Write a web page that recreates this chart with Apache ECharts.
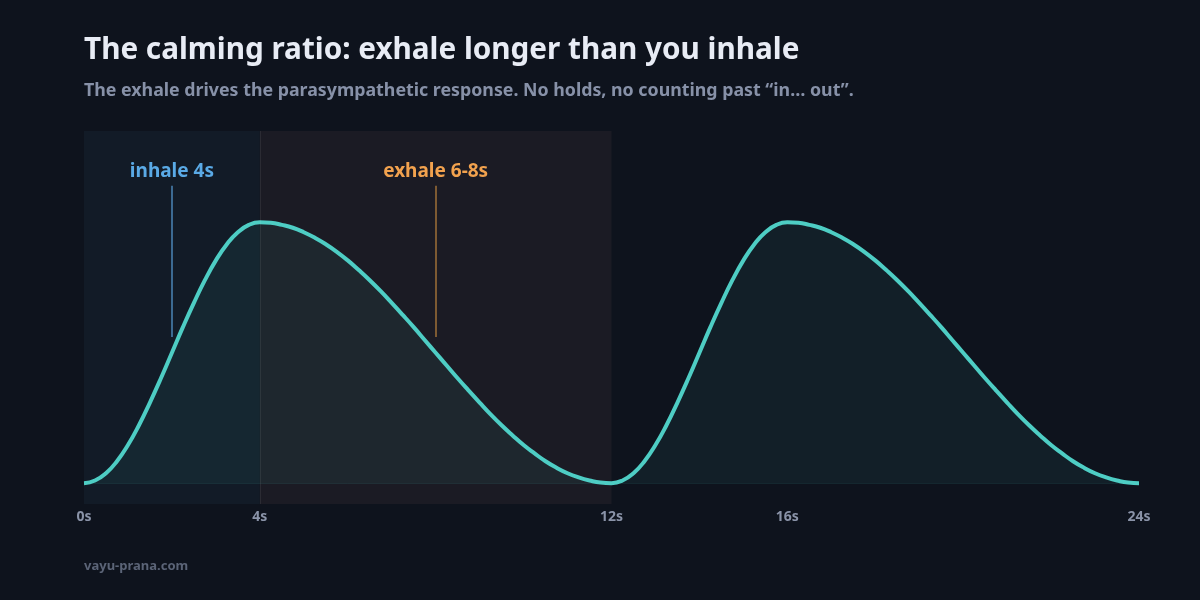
<!DOCTYPE html>
<html>
<head>
<meta charset="utf-8">
<script src="https://cdn.jsdelivr.net/npm/echarts@6/dist/echarts.min.js"></script>
<style>
  html, body { margin: 0; padding: 0; background: #0e131d; }
  #chart { width: 1200px; height: 600px; }
</style>
</head>
<body>
<div id="chart"></div>
<script>
// breath curve read every 0.25s over two cycles (0..24s), 1 = full lungs
var seconds = [0, 0.25, 0.5, 0.75, 1, 1.25, 1.5, 1.75, 2, 2.25, 2.5, 2.75, 3, 3.25, 3.5, 3.75,
    4, 4.25, 4.5, 4.75, 5, 5.25, 5.5, 5.75, 6, 6.25, 6.5, 6.75, 7, 7.25, 7.5, 7.75,
    8, 8.25, 8.5, 8.75, 9, 9.25, 9.5, 9.75, 10, 10.25, 10.5, 10.75, 11, 11.25, 11.5, 11.75,
    12, 12.25, 12.5, 12.75, 13, 13.25, 13.5, 13.75, 14, 14.25, 14.5, 14.75, 15, 15.25, 15.5, 15.75,
    16, 16.25, 16.5, 16.75, 17, 17.25, 17.5, 17.75, 18, 18.25, 18.5, 18.75, 19, 19.25, 19.5, 19.75,
    20, 20.25, 20.5, 20.75, 21, 21.25, 21.5, 21.75, 22, 22.25, 22.5, 22.75, 23, 23.25, 23.5, 23.75, 24];
var lungs = [0, 0.01, 0.038, 0.084, 0.146, 0.222, 0.309, 0.402, 0.5, 0.598, 0.691, 0.778, 0.854, 0.916, 0.962, 0.99,
    1, 0.998, 0.99, 0.979, 0.962, 0.941, 0.916, 0.887, 0.854, 0.817, 0.778, 0.736, 0.691, 0.645, 0.598, 0.549,
    0.5, 0.451, 0.402, 0.355, 0.309, 0.264, 0.222, 0.183, 0.146, 0.114, 0.084, 0.059, 0.038, 0.022, 0.01, 0.002,
    0, 0.01, 0.038, 0.084, 0.146, 0.222, 0.309, 0.402, 0.5, 0.598, 0.691, 0.778, 0.854, 0.916, 0.962, 0.99,
    1, 0.998, 0.99, 0.979, 0.962, 0.941, 0.916, 0.887, 0.854, 0.817, 0.778, 0.736, 0.691, 0.645, 0.598, 0.549,
    0.5, 0.451, 0.402, 0.355, 0.309, 0.264, 0.222, 0.183, 0.146, 0.114, 0.084, 0.059, 0.038, 0.022, 0.01, 0.002, 0];
var tickSeconds = [0, 4, 12, 16, 24];
var phaseNames = ['inhale 4s', 'exhale 6-8s'];
var phaseStart = [0, 4];
var phaseEnd = [4, 12];
var phaseLabelAt = [2, 8];

var FONT = '"Noto Sans", Lato, sans-serif';

var chart = echarts.init(document.getElementById('chart'), null, { renderer: 'canvas' });

var points = seconds.map(function (s, i) { return [s, lungs[i]]; });

chart.setOption({
    backgroundColor: '#0e131d',
    animation: false,
    title: {
        text: 'The calming ratio: exhale longer than you inhale',
        subtext: 'The exhale drives the parasympathetic response. No holds, no counting past \u201cin\u2026 out\u201d.',
        left: 79,
        top: 31,
        itemGap: 16,
        textStyle: { color: '#e8ecf5', fontFamily: FONT, fontWeight: 'bold', fontSize: 29.7 },
        subtextStyle: { color: '#8791a8', fontFamily: FONT, fontWeight: 'bold', fontSize: 17.8 }
    },
    graphic: [{
        type: 'text',
        left: 84,
        top: 560,
        style: { text: 'vayu-prana.com', fill: '#5b6477', font: 'bold 13px ' + FONT }
    }],
    grid: { left: 84, right: 61, top: 131, bottom: 96 },
    xAxis: {
        type: 'value',
        min: 0,
        max: 24,
        axisLine: { show: false },
        axisTick: { show: false },
        splitLine: { show: false },
        axisLabel: {
            customValues: tickSeconds,
            formatter: function (v) { return v + 's'; },
            color: '#8a93a8',
            fontFamily: FONT,
            fontWeight: 'bold',
            fontSize: 14,
            margin: 6
        }
    },
    yAxis: {
        type: 'value',
        min: -0.08,
        max: 1.35,
        show: false
    },
    series: [{
        type: 'line',
        data: points,
        smooth: true,
        symbol: 'none',
        lineStyle: { color: '#4ecdc4', width: 4 },
        areaStyle: { color: 'rgba(78,205,196,0.095)' },
        markArea: {
            silent: true,
            data: [
                [{ xAxis: phaseStart[0], itemStyle: { color: 'rgba(90,170,230,0.05)' } }, { xAxis: phaseEnd[0] }],
                [{ xAxis: phaseStart[1], itemStyle: { color: 'rgba(240,170,150,0.06)' } }, { xAxis: phaseEnd[1] }]
            ]
        },
        markLine: {
            silent: true,
            symbol: 'none',
            data: [
                [
                    { coord: [phaseLabelAt[0], 0.56], lineStyle: { color: '#3c6a92', width: 2, type: 'solid' },
                      label: { show: true, position: 'end', distance: 5, formatter: phaseNames[0], color: '#5aaae6', fontFamily: FONT, fontWeight: 'bold', fontSize: 19 } },
                    { coord: [phaseLabelAt[0], 1.14] }
                ],
                [
                    { coord: [phaseLabelAt[1], 0.56], lineStyle: { color: '#7d5a32', width: 2, type: 'solid' },
                      label: { show: true, position: 'end', distance: 5, formatter: phaseNames[1], color: '#f2a24e', fontFamily: FONT, fontWeight: 'bold', fontSize: 19 } },
                    { coord: [phaseLabelAt[1], 1.14] }
                ],
                [
                    { coord: [phaseEnd[0], -0.08], lineStyle: { color: 'rgba(255,255,255,0.07)', width: 1, type: 'solid' }, label: { show: false } },
                    { coord: [phaseEnd[0], 1.35] }
                ],
                [
                    { coord: [0, 0], lineStyle: { color: 'rgba(78,205,196,0.1)', width: 1, type: 'solid' }, label: { show: false } },
                    { coord: [24, 0] }
                ]
            ]
        }
    }]
});
</script>
</body>
</html>
